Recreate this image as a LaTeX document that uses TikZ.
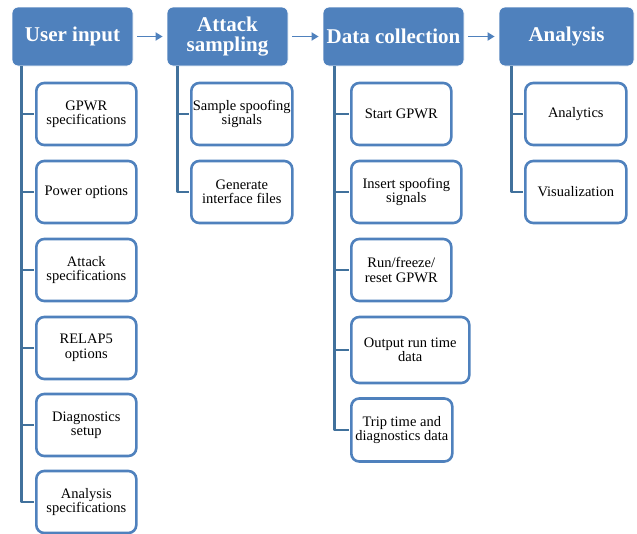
\documentclass[tikz,border=0pt]{standalone}
\usepackage{fontspec}
\setmainfont{Liberation Serif}
\usetikzlibrary{arrows.meta}
\definecolor{hdblue}{HTML}{4F81BD}
\definecolor{trunkblue}{HTML}{41719C}

\begin{document}
\begin{tikzpicture}[x=1pt,y=-1pt,line join=round,
  header/.style={draw=white,line width=0.8pt,fill=hdblue,rounded corners=6pt,text=white,
    font=\fontsize{21}{20.5}\selectfont\bfseries,align=center,inner sep=1pt,minimum height=59pt},
  item/.style={draw=hdblue,line width=2.6pt,fill=white,rounded corners=8pt,align=center,
    font=\fontsize{14.5}{14.5}\selectfont,inner sep=1pt,minimum height=62pt,anchor=west},
  branch/.style={draw=trunkblue,line width=2.6pt,shorten >=1.3pt},
  flow/.style={draw=hdblue,line width=1.8pt,-{Triangle[length=7pt,width=8pt]},shorten <=4pt,shorten >=4pt}]
  \useasboundingbox (0,0) rectangle (637,533);
  % top row of steps
  \node[header,minimum width=121pt] (ui) at (72.5,36.5) {User input};
  \node[header,minimum width=121pt] (as) at (227.5,36.5) {Attack\\sampling};
  \node[header,minimum width=141pt] (dc) at (393.5,36.5) {Data collection};
  \node[header,minimum width=135pt] (an) at (566.5,36.5) {Analysis};
  \draw[flow] (ui) -- (as);
  \draw[flow] (as) -- (dc);
  \draw[flow] (dc) -- (an);
  % user input list
  \foreach \name/\y/\txt in {ui1/114/{GPWR\\specifications},ui2/192/{Power options},
      ui3/270/{Attack\\specifications},ui4/348/{RELAP5\\options},
      ui5/425/{Diagnostics\\setup},ui6/502/{Analysis\\specifications}}
    \node[item,minimum width=100pt] (\name) at (35,\y) {\txt};
  % attack sampling list
  \node[item,minimum width=101pt] (as1) at (190,114) {Sample spoofing\\signals};
  \node[item,minimum width=101pt] (as2) at (190,192) {Generate\\interface files};
  % data collection list
  \node[item,minimum width=100pt] (dc1) at (350,114) {Start GPWR};
  \node[item,minimum width=110pt] (dc2) at (350,192) {Insert spoofing\\signals};
  \node[item,minimum width=100pt] (dc3) at (350,270) {Run/freeze/\\reset GPWR};
  \node[item,minimum width=118pt,minimum height=66pt] (dc4) at (350,350) {Output run time\\data};
  \node[item,minimum width=101pt,minimum height=63pt] (dc5) at (350,430) {Trip time and\\diagnostics data};
  % analysis list
  \node[item,minimum width=101pt] (an1) at (524,114) {Analytics};
  \node[item,minimum width=101pt] (an2) at (524,192) {Visualization};
  % tree lines
  \foreach \c in {ui1,ui2,ui3,ui4,ui5,ui6}
    \draw[branch] ([xshift=10pt]ui.south west) |- (\c.west);
  \foreach \c in {as1,as2}
    \draw[branch] ([xshift=11pt]as.south west) |- (\c.west);
  \foreach \c in {dc1,dc2,dc3,dc4,dc5}
    \draw[branch] ([xshift=12pt]dc.south west) |- (\c.west);
  \foreach \c in {an1,an2}
    \draw[branch] ([xshift=13pt]an.south west) |- (\c.west);
\end{tikzpicture}
\end{document}
